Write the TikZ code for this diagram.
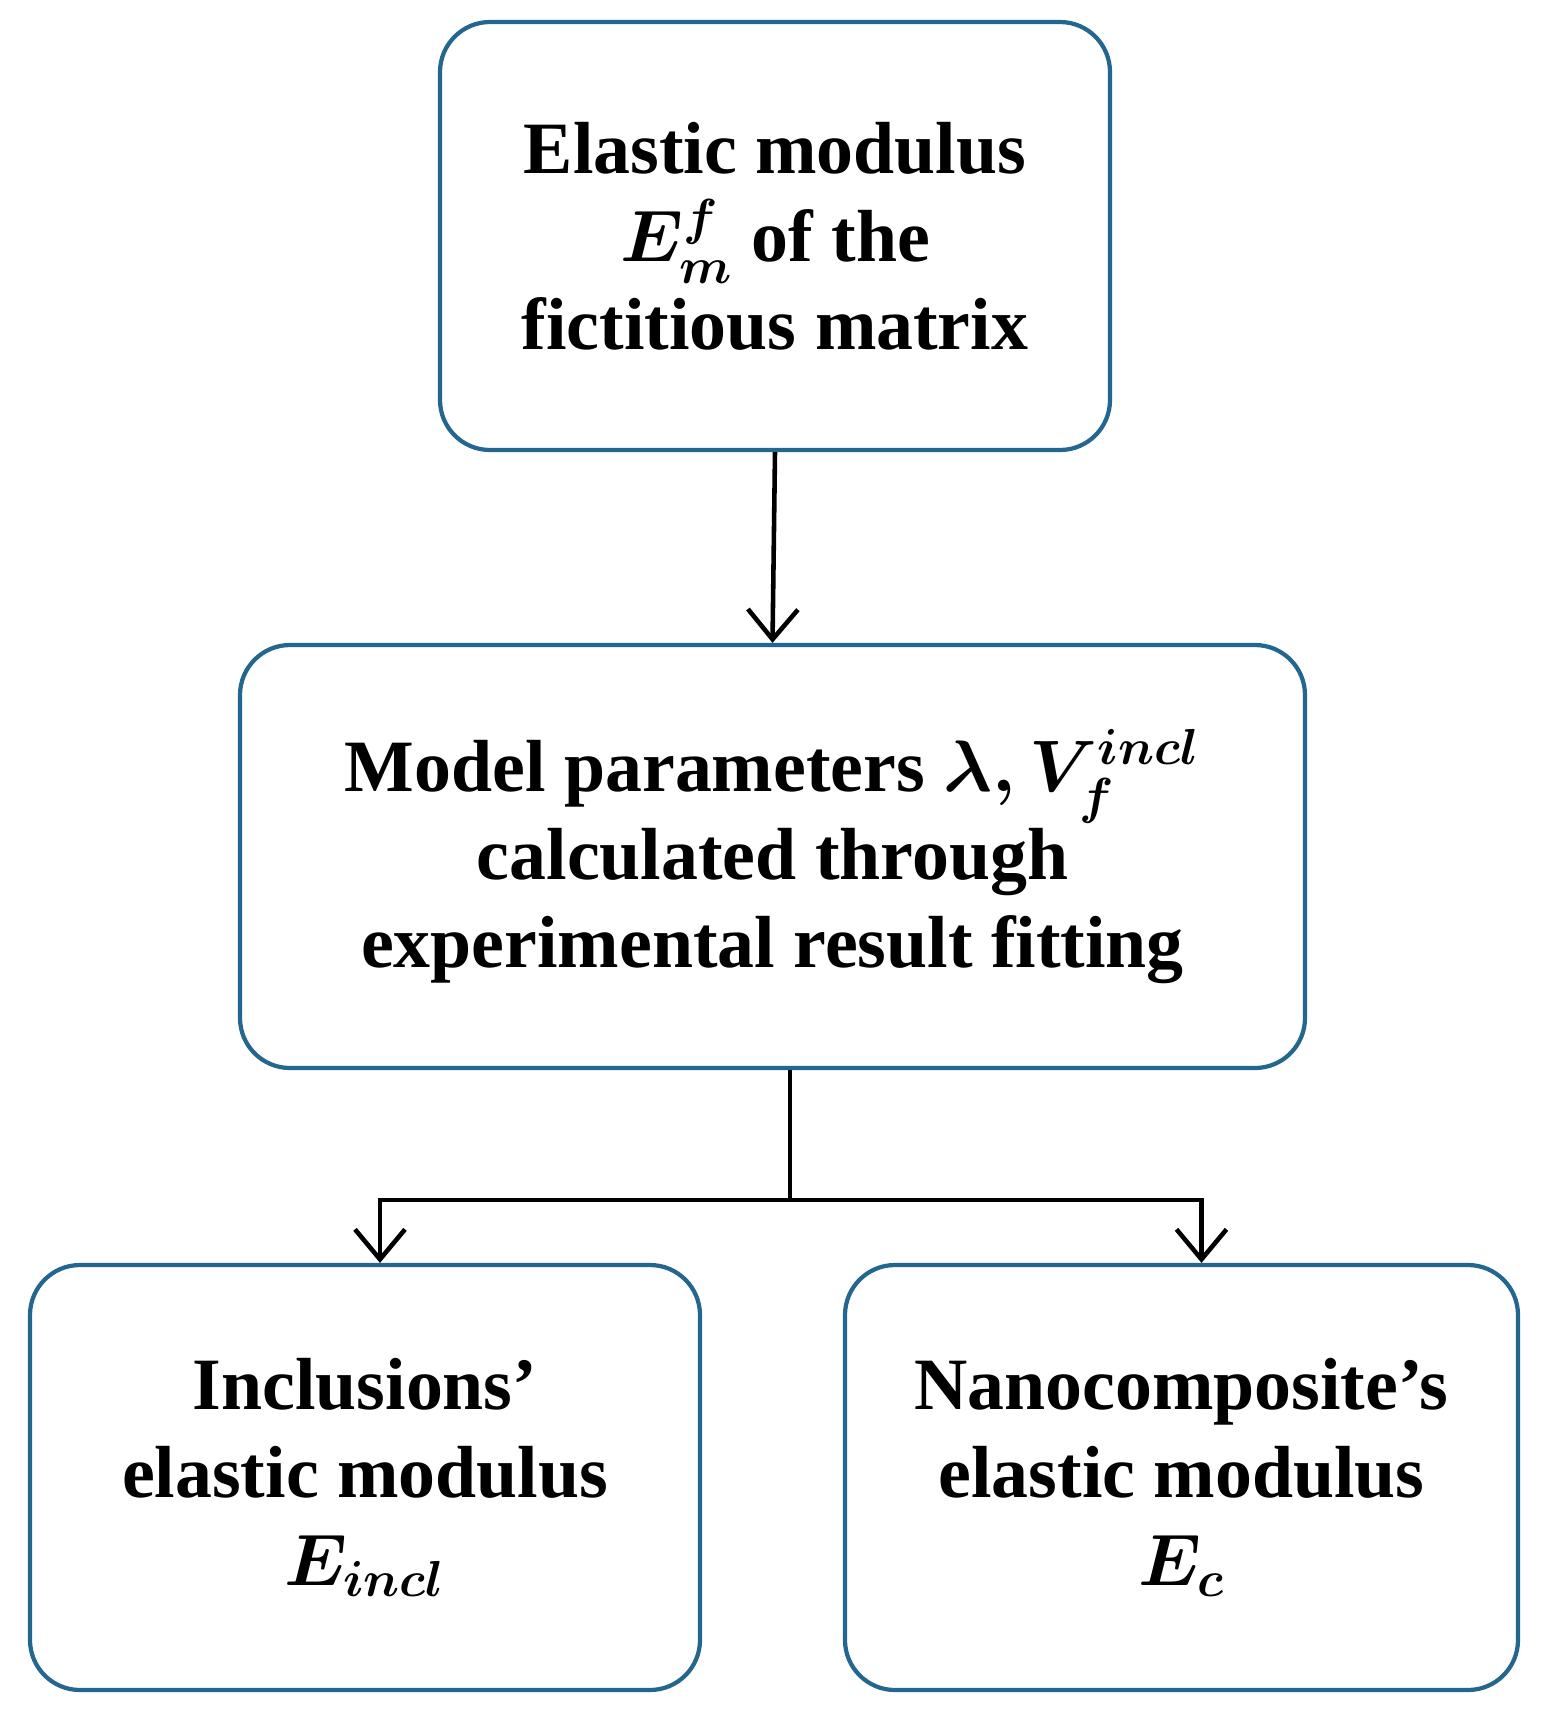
\documentclass[tikz,border=0pt]{standalone}
\usepackage{fontspec}
\setmainfont{Liberation Serif}
\usepackage{amsmath}
\usetikzlibrary{arrows.meta}
\definecolor{boxblue}{HTML}{23668F}
\begin{document}
\begin{tikzpicture}[x=1cm,y=1cm,
    stepbox/.style={draw=boxblue,line width=1.2pt,rounded corners=0.5cm,align=center,
        font=\fontsize{21}{25}\selectfont\bfseries\boldmath,inner sep=0pt},
    link/.style={line width=1.3pt,-{Straight Barb[length=3mm,width=5mm]}}]
    \useasboundingbox (0,0) rectangle (15.43,-17.11);
    \node[stepbox,minimum width=6.7cm,minimum height=4.28cm] (fict) at (7.75,-2.36)
        {Elastic modulus\\$E_m^f$ of the\\fictitious matrix};
    \node[stepbox,minimum width=10.65cm,minimum height=4.23cm] (model) at (7.725,-8.565)
        {Model parameters $\lambda, V_f^{incl}$\\calculated through\\experimental result fitting};
    \node[stepbox,minimum width=6.7cm,minimum height=4.25cm] (incl) at (3.65,-14.775)
        {Inclusions'\\elastic modulus\\$E_{incl}$};
    \node[stepbox,minimum width=6.73cm,minimum height=4.25cm] (comp) at (11.815,-14.775)
        {Nanocomposite's\\elastic modulus\\$E_c$};
    \coordinate (split) at (7.9,-12.0);
    \draw[link] (fict.south) -- (model.north);
    \draw[line width=1.3pt] (model.south -| split) -- (split);
    \draw[link] (split) -| ([xshift=0.15cm]incl.north);
    \draw[link] (split) -| ([xshift=0.2cm]comp.north);
\end{tikzpicture}
\end{document}
